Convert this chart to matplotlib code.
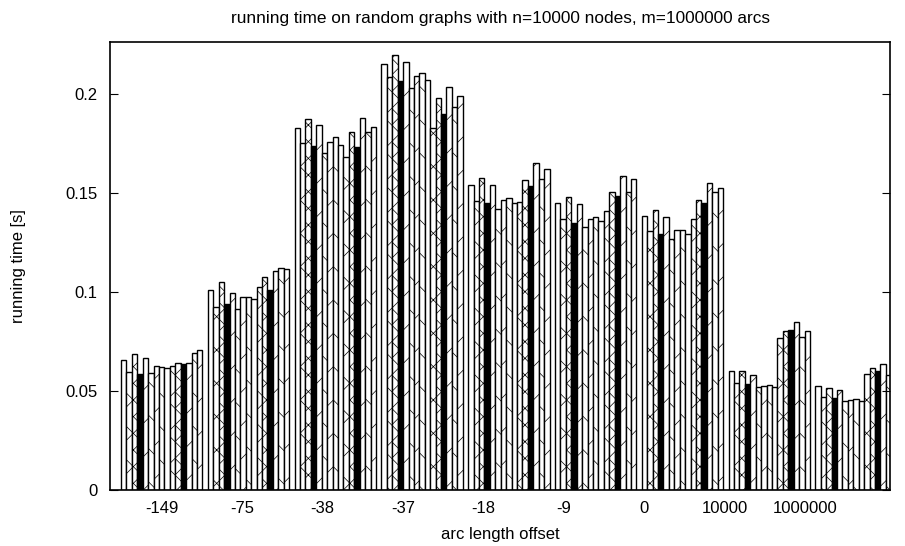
import numpy as np
import matplotlib
matplotlib.use("Agg")
import matplotlib.pyplot as plt

plt.rcParams['font.family'] = ['Liberation Sans', 'DejaVu Sans']
plt.rcParams['hatch.linewidth'] = 0.5

offsets = ['-149', '-75', '-38', '-37', '-18', '-9', '0', '10000', '1000000']

# running time [s], one row per arc length offset, 15 runs each
g_149 = [0.0657, 0.0597, 0.0687, 0.0584, 0.0667, 0.0591, 0.0626, 0.0621,
         0.0616, 0.0626, 0.0643, 0.0636, 0.0643, 0.0693, 0.0707]
g_75 = [0.101, 0.0926, 0.1049, 0.0938, 0.0993, 0.0912, 0.0973, 0.0976,
        0.0963, 0.1027, 0.1074, 0.101, 0.1108, 0.112, 0.1115]
g_38 = [0.1827, 0.1751, 0.1872, 0.1737, 0.1843, 0.1704, 0.1756, 0.1781,
        0.1742, 0.1684, 0.1806, 0.1734, 0.1877, 0.181, 0.1832]
g_37 = [0.2152, 0.2088, 0.2197, 0.2067, 0.2163, 0.2029, 0.2091, 0.2104,
        0.2071, 0.183, 0.1978, 0.1899, 0.2034, 0.1936, 0.1991]
g_18 = [0.154, 0.1461, 0.1574, 0.1448, 0.154, 0.1418, 0.1465, 0.1473,
        0.1448, 0.1456, 0.1564, 0.1537, 0.165, 0.1569, 0.162]
g_9 = [0.1448, 0.1369, 0.1478, 0.135, 0.1443, 0.1327, 0.1369, 0.138,
       0.1359, 0.1411, 0.1503, 0.1485, 0.1587, 0.1507, 0.1569]
g_0 = [0.1384, 0.1308, 0.1414, 0.1293, 0.1377, 0.1268, 0.1313, 0.1313,
       0.1291, 0.1367, 0.1465, 0.1448, 0.1549, 0.1505, 0.1525]
g_1e4 = [0.0601, 0.0539, 0.0601, 0.0534, 0.0581, 0.0519, 0.0527, 0.053,
         0.0522, 0.0766, 0.0805, 0.0808, 0.085, 0.0774, 0.0805]
g_1e6 = [0.0525, 0.0471, 0.0517, 0.0466, 0.0505, 0.0451, 0.0455, 0.046,
         0.0449, 0.0586, 0.0614, 0.0601, 0.0635, 0.0581, 0.0589]

groups = [g_149, g_75, g_38, g_37, g_18, g_9, g_0, g_1e4, g_1e6]

# gnuplot-like fill patterns, cycling every 8 bars
patterns = ['', 'x', 'xx', 'solid', '/', '\\', '/', '\\']

fig = plt.figure(figsize=(9.05, 5.46), dpi=100)
ax = fig.add_axes([110 / 905, 56 / 546, 780 / 905, 448 / 546])

nbars = len(g_149)
w = 1.0 / (nbars + 1)
for g, vals in enumerate(groups):
    for j, v in enumerate(vals):
        p = patterns[j % 8]
        if p == 'solid':
            ax.bar(g + j * w, v, w, align='edge', color='black',
                   edgecolor='black', linewidth=1.0)
        else:
            ax.bar(g + j * w, v, w, align='edge', color='white',
                   edgecolor='black', linewidth=1.0, hatch=p)

ax.set_xlim(-0.127, 8.86)
ax.set_ylim(0, 0.2263)
ax.set_yticks([0, 0.05, 0.1, 0.15, 0.2])
ax.set_yticklabels(['0', '0.05', '0.1', '0.15', '0.2'])
ax.set_xticks([0.47 + 0.926 * i for i in range(len(offsets))])
ax.set_xticklabels(offsets)
ax.tick_params(axis='x', length=0, pad=8, labelsize=12)
ax.tick_params(axis='y', direction='in', length=6, right=True, labelsize=12, pad=9)
for s in ax.spines.values():
    s.set_linewidth(1.2)

fig.text(500 / 905, 1 - 18 / 546,
         'running time on random graphs with n=10000 nodes, m=1000000 arcs',
         fontsize=12.4, ha='center', va='center')
ax.set_xlabel('arc length offset', fontsize=12)
ax.xaxis.set_label_coords(0.5, (490 - 527) / 448)
ax.set_ylabel('running time [s]', fontsize=12)
ax.yaxis.set_label_coords((26 - 110) / 780, 0.5)

fig.savefig('out.png', dpi=100)
